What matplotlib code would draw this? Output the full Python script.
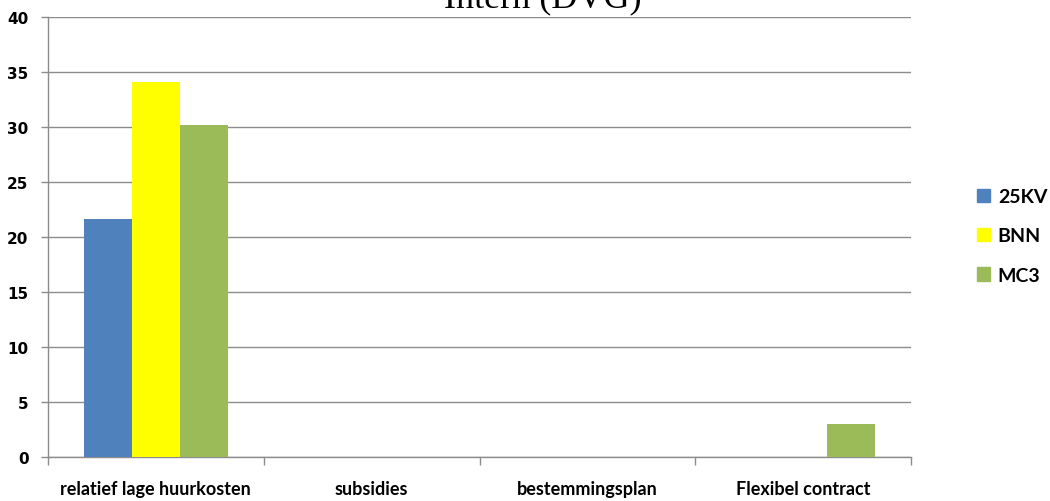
import numpy as np
import matplotlib.pyplot as plt
from matplotlib.patches import Patch

categories = ['relatief lage huurkosten', 'subsidies', 'bestemmingsplan', 'Flexibel contract']
series_names = ['25KV', 'BNN', 'MC3']
kv25 = [21.6, 0, 0, 0]
bnn = [34.1, 0, 0, 0]
mc3 = [30.2, 0, 0, 3.0]
colors = ['#4F81BD', '#FFFF00', '#9BBB59']
yticks = [0, 5, 10, 15, 20, 25, 30, 35, 40]

fig = plt.figure(figsize=(10.5, 5.02), dpi=100)
ax = fig.add_axes([48/1050, 1-457.7/502, (911-48)/1050, (457.7-17.7)/502])

x = np.arange(len(categories))
w = 2/9
for i, vals in enumerate([kv25, bnn, mc3]):
    ax.bar(x + (i-1)*w, vals, width=w, color=colors[i], zorder=3)

ax.set_xlim(-0.5, len(categories)-0.5)
ax.set_ylim(0, 40)
ax.set_yticks(yticks)
ax.set_yticklabels([str(t) for t in yticks], fontsize=11, fontweight='bold',
                   family=['DejaVu Sans'])
ax.yaxis.grid(True, color='#8c8c8c', linewidth=1, zorder=0)
ax.set_axisbelow(True)

ax.set_xticks(x)
ax.set_xticklabels(categories, fontsize=13, fontweight='bold',
                   family=['Lato', 'DejaVu Sans'])
ax.set_xticks(np.arange(-0.5, len(categories)), minor=True)
ax.tick_params(axis='x', which='major', length=0, pad=17)
ax.tick_params(axis='x', which='minor', length=6, color='#8c8c8c', width=1)
ax.tick_params(axis='y', length=5, color='#8c8c8c', width=1, pad=9)

for s in ['top', 'right']:
    ax.spines[s].set_visible(False)
for s in ['left', 'bottom']:
    ax.spines[s].set_color('#8c8c8c')
    ax.spines[s].set_linewidth(1)

handles = [Patch(color=c) for c in colors]
fig.legend(handles, series_names, loc='center left', bbox_to_anchor=(977/1050, 1-237/502),
           frameon=False, borderpad=0, borderaxespad=0,
           prop={'weight': 'bold', 'size': 14, 'family': ['Lato', 'DejaVu Sans']},
           handlelength=0.67, handleheight=0.67, handletextpad=0.4, labelspacing=1.15)

fig.text(543/1050, 1-7/502, 'Intern (DVG)', ha='center', va='baseline',
         fontsize=26, family=['Liberation Serif', 'DejaVu Serif'])

fig.savefig('out.png', dpi=100)
